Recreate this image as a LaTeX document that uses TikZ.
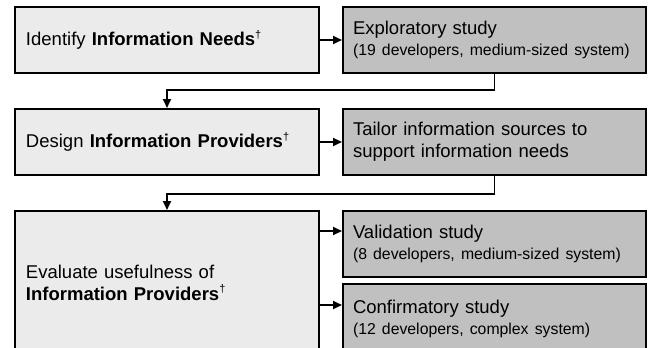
\documentclass[tikz,border=0pt]{standalone}
\usepackage{fontspec}
\setmainfont{Liberation Sans}
\usetikzlibrary{arrows.meta,calc}
\definecolor{lightbox}{HTML}{EBEBEB}
\definecolor{darkbox}{HTML}{C0C0C0}
\newcommand{\bigtxt}{\fontsize{18.5pt}{22pt}\selectfont}
\newcommand{\smalltxt}{\fontsize{15.8pt}{19pt}\selectfont}
\newcommand{\dg}{\raisebox{0.42em}{\fontsize{11pt}{11pt}\selectfont †}}
\tikzset{
  x=1pt, y=-1pt,
  leftbox/.style={draw=black, line width=2pt, fill=lightbox, rectangle, anchor=north west,
    minimum width=304pt, minimum height=66pt, text width=282pt, inner xsep=11pt,
    align=left, font=\bigtxt},
  rightbox/.style={draw=black, line width=2pt, fill=darkbox, rectangle, anchor=north west,
    minimum width=303pt, minimum height=66pt, text width=283pt, inner xsep=10pt,
    align=left, font=\bigtxt},
  conn/.style={line width=1.8pt, -{Triangle[length=9pt,width=8pt]}}
}
\begin{document}
\begin{tikzpicture}
\clip (0,0) rectangle (649,348);
\useasboundingbox (0,0) rectangle (649,348);
\node[leftbox] (L1) at (14,6) {Identify \textbf{Information Needs}\dg};
\node[rightbox] (R1) at (342,6) {Exploratory study\\[-1pt]{\smalltxt (19 developers, medium-sized system)}};
\node[leftbox] (L2) at (14,108) {Design \textbf{Information Providers}\dg};
\node[rightbox] (R2) at (342,108) {Tailor information sources to\\support information needs};
\node[leftbox, minimum height=143pt] (L3) at (14,210) {Evaluate usefulness of\\\textbf{Information Providers}\dg};
\node[rightbox] (R3) at (342,210) {Validation study\\[-1pt]{\smalltxt (8 developers, medium-sized system)}};
\node[rightbox, minimum height=70pt] (R4) at (342,283) {Confirmatory study\\[-1pt]{\smalltxt (12 developers, complex system)}};
\draw[conn] (L1) -- (R1);
\draw[conn] (L2) -- (R2);
\draw[conn] (R1.south) -- ++(0,16) -| (L2.north);
\draw[conn] (R2.south) -- ++(0,18) -| (L3.north);
\coordinate (a3) at ($(R3.north west)+(0,21)$);
\coordinate (a4) at ($(R4.north west)+(0,22)$);
\draw[conn] (a3 -| L3.east) -- (a3);
\draw[conn] (a4 -| L3.east) -- (a4);
\end{tikzpicture}
\end{document}
